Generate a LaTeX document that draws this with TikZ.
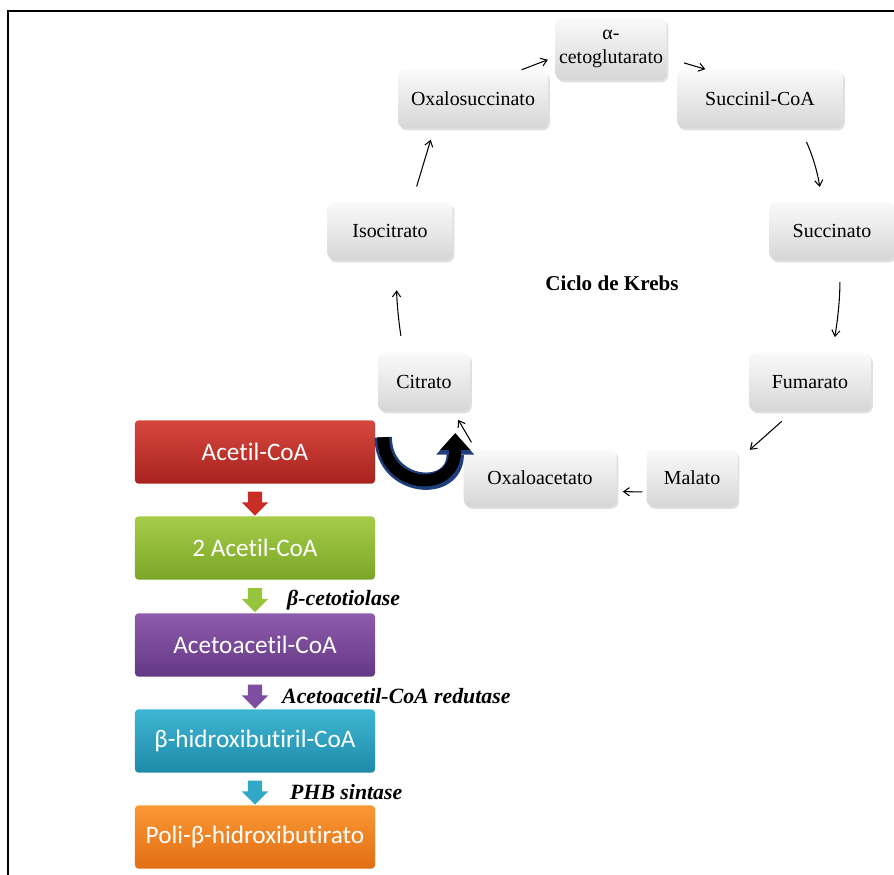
\documentclass[tikz,border=0pt]{standalone}
\usepackage{fontspec}
\setmainfont{Liberation Serif}
\newfontfamily\calfont[Ligatures={NoCommon,NoDiscretionary,NoContextual},RawFeature={-liga;-clig;-dlig}]{Carlito}
\usetikzlibrary{positioning,calc,shapes.arrows,shadows,arrows.meta}
\definecolor{ublue}{RGB}{30,62,125}
\tikzset{
  krebs/.style={rounded corners=6pt, top color=gray!4, bottom color=gray!32, draw=none,
    drop shadow={opacity=0.25,shadow xshift=1.5pt,shadow yshift=-2pt},
    font=\fontsize{17}{20.5}\selectfont, align=center, inner sep=0pt, minimum height=1.74cm},
  kar/.style={-{Straight Barb[length=5pt,width=7pt]}, line width=0.9pt},
  lbox/.style={rounded corners=3pt, minimum width=7.2cm, minimum height=1.9cm, text=white,
    font=\calfont\fontsize{21.5}{24}\selectfont, inner sep=0pt},
  darr/.style={single arrow, shape border rotate=270, minimum height=0.72cm, minimum width=0.78cm,
    single arrow head extend=0.18cm, inner sep=0.21cm, draw=none},
  enz/.style={anchor=west, font=\fontsize{18.6}{20}\selectfont\bfseries\itshape, inner sep=0pt}
}
\begin{document}
\begin{tikzpicture}[x=0.03cm,y=-0.03cm]
  \useasboundingbox (0,0) rectangle (894,875);
  \draw[line width=1.6pt] (894,11) -- (8,11) -- (8,875);
  % ciclo de Krebs
  \node[krebs, minimum width=3.33cm, minimum height=1.86cm] (akg) at (611,49) {α-\\cetoglutarato};
  \node[krebs, minimum width=4.5cm] (oxs) at (473,99) {Oxalosuccinato};
  \node[krebs, minimum width=4.98cm] (scc) at (760,99) {Succinil-CoA};
  \node[krebs, minimum width=3.75cm] (iso) at (390,231) {Isocitrato};
  \node[krebs, minimum width=3.75cm] (suc) at (832,231) {Succinato};
  \node[krebs, minimum width=2.76cm] (cit) at (424,382) {Citrato};
  \node[krebs, minimum width=3.66cm] (fum) at (810,382) {Fumarato};
  \node[krebs, minimum width=2.73cm, minimum height=1.71cm] (mal) at (692,478) {Malato};
  \node[krebs, minimum width=4.59cm, minimum height=1.71cm] (oxa) at (540,478) {Oxaloacetato};
  \node[font=\fontsize{18}{20}\selectfont\bfseries] (krb) at (612,283) {Ciclo de Krebs};
  \draw[kar, shorten >=0.24cm] (oxs.31) -- (akg.188);
  \draw[kar, shorten <=0.54cm, shorten >=0.06cm] (akg.351) -- (scc.151);
  \draw[kar, shorten <=0.45cm, shorten >=0.45cm] (scc.324) to[bend left=8] (suc.109);
  \draw[kar, shorten <=0.66cm, shorten >=0.48cm] (suc.285) to[bend left=5] (fum.53);
  \draw[kar, shorten <=0.45cm, shorten >=0.48cm] (fum.240) -- (mal.21);
  \draw[kar, shorten <=0.12cm, shorten >=0.18cm] (mal.197) -- (oxa.350);
  \draw[kar, shorten <=0.24cm, shorten >=0.3cm] (oxa.156) -- (cit.315);
  \draw[kar, shorten <=0.51cm, shorten >=0.9cm] (cit.125) to[bend left=5] (iso.284);
  \draw[kar, shorten <=0.48cm, shorten >=0.36cm] (iso.53) -- (oxs.217);
  % via do PHB
  \node[lbox, top color={rgb,255:red,214;green,72;blue,62}, bottom color={rgb,255:red,168;green,34;blue,30}] (acet) at (255,452) {Acetil-CoA};
  \node[lbox, top color={rgb,255:red,166;green,204;blue,72}, bottom color={rgb,255:red,122;green,166;blue,40}] (acet2) at (255,548) {2 Acetil-CoA};
  \node[lbox, top color={rgb,255:red,142;green,92;blue,172}, bottom color={rgb,255:red,100;green,56;blue,132}] (aac) at (255,645) {Acetoacetil-CoA};
  \node[lbox, top color={rgb,255:red,62;green,182;blue,210}, bottom color={rgb,255:red,30;green,138;blue,168}] (hbc) at (255,741) {β-hidroxibutiril-CoA};
  \node[lbox, top color={rgb,255:red,250;green,152;blue,52}, bottom color={rgb,255:red,226;green,110;blue,20}] (phb) at (255,837) {Poli-β-hidroxibutirato};
  \node[darr, fill={rgb,255:red,200;green,45;blue,40}] (a1) at ($(acet.south)!0.5!(acet2.north)$) {};
  \node[darr, fill={rgb,255:red,150;green,196;blue,60}] (a2) at ($(acet2.south)!0.5!(aac.north)$) {};
  \node[darr, fill={rgb,255:red,128;green,78;blue,160}] (a3) at ($(aac.south)!0.5!(hbc.north)$) {};
  \node[darr, fill={rgb,255:red,50;green,168;blue,198}] (a4) at ($(hbc.south)!0.5!(phb.north)$) {};
  \node[enz] (e1) at (287,600) {β-cetotiolase};
  \node[enz] (e2) at (282,696) {Acetoacetil-CoA redutase};
  \node[enz] (e3) at (290,792) {PHB sintase};
  % seta em U
  \draw[line width=0.52cm, ublue, -{Triangle[length=0.64cm,width=1.14cm,line width=0pt]}]
    ([shift={(8,0)}]acet.7) .. controls +(0,52) and +(0,62) .. ([shift={(2,22)}]cit.315);
  \draw[line width=0.36cm, black, -{Triangle[length=0.5cm,width=0.9cm,line width=0pt]}]
    ([shift={(8,0)}]acet.7) .. controls +(0,52) and +(0,62) .. ([shift={(2,22)}]cit.315);
\end{tikzpicture}
\end{document}
